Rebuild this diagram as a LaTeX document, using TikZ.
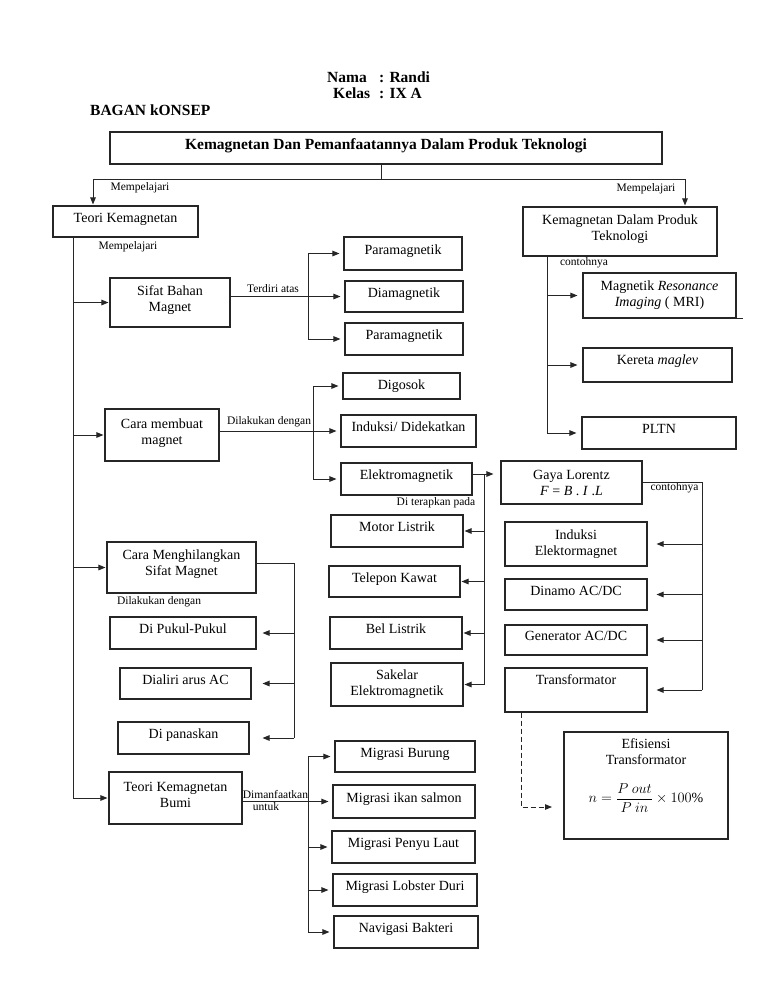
\documentclass[tikz,border=0pt]{standalone}
\usepackage{amsmath}
\usepackage{fontspec}
\setmainfont{Liberation Serif}
\usetikzlibrary{arrows.meta}
\tikzset{
  box/.style={draw=black!85, line width=1.1pt, inner sep=0pt, align=center, font=\fontsize{14}{16}\selectfont},
  one/.style={text depth=8pt},
  lbl/.style={inner sep=0pt, font=\fontsize{11.5}{13}\selectfont},
  hdr/.style={inner sep=0pt, font=\bfseries\fontsize{15.5}{18}\selectfont},
  ln/.style={line width=1pt, draw=black!85},
  arr/.style={ln, -{Triangle[length=7pt,width=5.5pt]}, shorten >=1pt},
}
\newcommand\bx[7][]{\node[box,minimum width={(#5)-(#3)},minimum height={(#6)-(#4)},#1] (#2) at ({((#3)+(#5))/2},{((#4)+(#6))/2}) {#7};}
\newcommand\lift{\\[-9pt]\mbox{}}
\begin{document}
\begin{tikzpicture}[x=1pt,y=-1pt]
\useasboundingbox[fill=white] (0,0) rectangle (768,994);
% header
\node[hdr, anchor=base west] (nama) at (327,82) {Nama};
\node[hdr, anchor=base west] (namav) at (379,82) {: Randi};
\node[hdr, anchor=base west] (kelas) at (333,98) {Kelas};
\node[hdr, anchor=base west] (kelasv) at (379,98) {: IX A};
\node[hdr, anchor=base west] (bagan) at (90,115) {BAGAN kONSEP};
% boxes
\bx[one]{title}{110}{132}{662}{164}{\bfseries\fontsize{15.5}{18}\selectfont Kemagnetan Dan Pemanfaatannya Dalam Produk Teknologi}
\bx[one]{teori}{53}{206}{198}{237}{Teori Kemagnetan}
\bx{kdp}{523}{207}{717}{256}{Kemagnetan Dalam Produk\\Teknologi\lift}
\bx{sifat}{110}{278}{230}{327}{Sifat Bahan\\Magnet\lift}
\bx[one]{paraA}{344}{237}{462}{270}{Paramagnetik}
\bx[one]{dia}{345}{281}{463}{312}{Diamagnetik}
\bx[one]{paraB}{345}{323}{463}{355}{Paramagnetik}
\bx{mri}{583}{273}{736}{318}{Magnetik \textit{Resonance}\\\textit{Imaging} ( MRI)}
\bx{maglev}{583}{348}{732}{382}{Kereta \textit{maglev}\\[-5pt]\mbox{}}
\bx[one]{pltn}{582}{417}{736}{449}{PLTN}
\bx{digosok}{343}{373}{460}{399}{Digosok}
\bx{cara}{105}{409}{219}{461}{Cara membuat\\magnet\lift}
\bx[one]{induksi}{341}{415}{476}{447}{Induksi/ Didekatkan}
\bx[one]{elektro}{341}{463}{472}{495}{Elektromagnetik}
\bx{gaya}{501}{461}{642}{504}{Gaya Lorentz\\\textit{F} = \textit{B} . \textit{I} .\textit{L}}
\bx[one]{motor}{331}{515}{463}{547}{Motor Listrik}
\bx[one]{telepon}{329}{566}{460}{597}{Telepon Kawat}
\bx[one]{bel}{330}{617}{462}{649}{Bel Listrik}
\bx{sakelar}{331}{663}{463}{706}{Sakelar\\Elektromagnetik}
\bx{indE}{505}{522}{647}{566}{Induksi\\Elektormagnet}
\bx[one]{dinamo}{505}{579}{647}{610}{Dinamo AC/DC}
\bx[one]{generator}{505}{625}{647}{655}{Generator AC/DC}
\bx{trafo}{505}{668}{647}{712}{Transformator\\[4pt]\mbox{}}
\bx[line width=2pt]{efi}{564}{732}{728}{839}{}
\node[box, draw=none, anchor=north] (efit) at ([yshift=-7pt]efi.north) {Efisiensi\\Transformator};
\node[box, draw=none] (efif) at ([yshift=-12.5pt]efi.center) {$n=\dfrac{P\ out}{P\ in}\times 100\%$};
\bx{hilang}{107}{542}{256}{593}{Cara Menghilangkan\\Sifat Magnet\\[-6pt]\mbox{}}
\bx[one]{pukul}{110}{617}{256}{649}{Di Pukul-Pukul}
\bx[one]{dialiri}{120}{668}{251}{699}{Dialiri arus AC}
\bx[one]{panas}{118}{722}{249}{754}{Di panaskan}
\bx{bumi}{109}{772}{242}{824}{Teori Kemagnetan\\Bumi\lift}
\bx[one]{burung}{335}{741}{475}{772}{Migrasi Burung}
\bx[one]{salmon}{333}{785}{475}{818}{Migrasi ikan salmon}
\bx[one]{penyu}{332}{831}{475}{863}{Migrasi Penyu Laut}
\bx[one]{lobster}{333}{874}{477}{906}{Migrasi Lobster Duri}
\bx[one]{navigasi}{334}{916}{478}{948}{Navigasi Bakteri}
\draw[ln] ([xshift=-53pt]mri.south east) -- ([xshift=6pt]mri.south east);
% labels
\node[lbl] (l1) at (140,188) {Mempelajari};
\node[lbl] (l2) at (646,189) {Mempelajari};
\node[lbl] (l3) at (128,247) {Mempelajari};
\node[lbl] (l4) at (273,289) {Terdiri atas};
\node[lbl] (l5) at (269,422) {Dilakukan dengan};
\node[lbl] (l6) at (436,503) {Di terapkan pada};
\node[lbl] (l7) at (584,263) {contohnya};
\node[lbl] (l8) at (674.5,488) {contohnya};
\node[lbl] (l9) at (159,602) {Dilakukan dengan};
\node[lbl] (l10) at (275.5,794) {Dimanfaatkan};
\node[lbl] (l11) at (266,807) {untuk};
% top connectors
\coordinate (tick) at (381,179);
\coordinate (hl) at (93,179);
\coordinate (hr) at (685,179);
\draw[ln] (title.south -| tick) -- (tick);
\draw[ln] (hl) -- (hr);
\draw[arr] (hl) -- (hl |- teori.north);
\draw[arr] (hr) -- (hr |- kdp.north);
% trunk
\coordinate (trunk) at (73,0);
\draw[arr] (teori.south -| trunk) -- (trunk |- bumi.west) -- (bumi.west);
\draw[arr] (trunk |- sifat.west) -- (sifat.west);
\draw[arr] (trunk |- cara.west) -- (cara.west);
\draw[arr] (trunk |- hilang.west) -- (hilang.west);
% sifat
\coordinate (bs) at (308,0);
\draw[arr,shorten >=4pt] (sifat.east |- dia.west) -- (dia.west);
\draw[arr,shorten >=4pt] (bs |- paraA.west) -- (bs |- paraB.west) -- (paraB.west);
\draw[arr,shorten >=4pt] (bs |- paraA.west) -- (paraA.west);
% cara
\coordinate (bc) at (313,0);
\draw[arr,shorten >=4pt] (cara.east |- induksi.west) -- (induksi.west);
\draw[arr,shorten >=4pt] (bc |- digosok.west) -- (bc |- elektro.west) -- (elektro.west);
\draw[arr,shorten >=4pt] (bc |- digosok.west) -- (digosok.west);
% elektro
\coordinate (be) at (484,0);
\coordinate (eo) at ([yshift=5pt]elektro.east);
\draw[arr,shorten >=7pt] (eo) -- (eo -| gaya.west);
\draw[ln] (eo -| be) -- (be |- sakelar.east);
\draw[arr] (be |- motor.east) -- (motor.east);
\draw[arr] (be |- telepon.east) -- (telepon.east);
\draw[arr] (be |- bel.east) -- (bel.east);
\draw[arr] (be |- sakelar.east) -- (sakelar.east);
% gaya
\coordinate (bg) at (702,0);
\draw[ln] (gaya.east) -- (gaya.east -| bg) -- (bg |- trafo.east);
\draw[arr,shorten >=9pt] (bg |- indE.east) -- (indE.east);
\draw[arr,shorten >=9pt] (bg |- dinamo.east) -- (dinamo.east);
\draw[arr,shorten >=9pt] (bg |- generator.east) -- (generator.east);
\draw[arr,shorten >=9pt] (bg |- trafo.east) -- (trafo.east);
% dashed
\coordinate (dc) at (521,807);
\draw[arr,dash pattern=on 5pt off 3pt,shorten >=11pt] (trafo.south -| dc) -- (dc) -- (efi.west |- dc);
% hilang
\coordinate (bh) at (294,0);
\coordinate (ho) at ([yshift=4pt]hilang.east);
\draw[ln] (ho) -- (ho -| bh) -- (bh |- panas.east);
\draw[arr,shorten >=6pt] (bh |- pukul.east) -- (pukul.east);
\draw[arr,shorten >=11pt] (bh |- dialiri.east) -- (dialiri.east);
\draw[arr,shorten >=13pt] (bh |- panas.east) -- (panas.east);
% bumi
\coordinate (bb) at (308,0);
\draw[arr,shorten >=4pt] (bumi.east |- salmon.west) -- (salmon.west);
\draw[ln] (bb |- burung.west) -- (bb |- navigasi.west);
\draw[arr,shorten >=4pt] (bb |- burung.west) -- (burung.west);
\draw[arr,shorten >=4pt] (bb |- penyu.west) -- (penyu.west);
\draw[arr,shorten >=4pt] (bb |- lobster.west) -- (lobster.west);
\draw[arr,shorten >=4pt] (bb |- navigasi.west) -- (navigasi.west);
% kdp
\coordinate (bk) at (547,0);
\draw[ln] (kdp.south -| bk) -- (bk |- pltn.west);
\draw[arr,shorten >=5pt] (bk |- mri.west) -- (mri.west);
\draw[arr,shorten >=5pt] (bk |- maglev.west) -- (maglev.west);
\draw[arr,shorten >=5pt] (bk |- pltn.west) -- (pltn.west);
\end{tikzpicture}
\end{document}
